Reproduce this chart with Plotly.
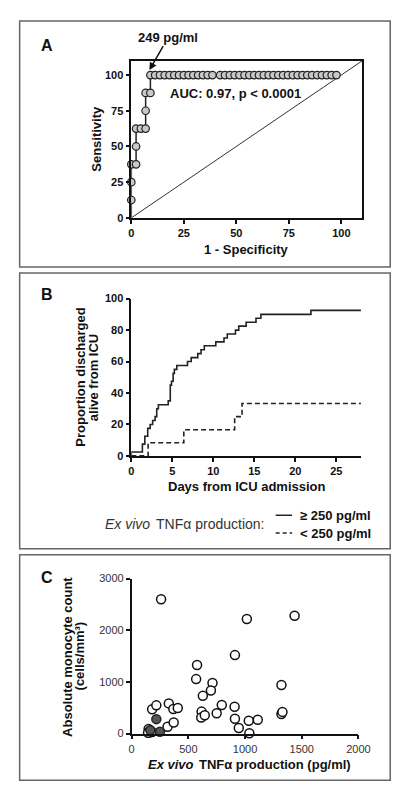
import plotly.graph_objects as go

# ---------------- DATA ----------------
# Panel A: ROC curve
roc_fpr = [0, 0, 0, 0, 2.27, 2.27, 2.27, 4.55, 6.82, 6.82, 6.82, 9.09, 9.09,
           11.36, 13.64, 15.91, 18.18, 20.45, 22.73, 25.0, 27.27, 29.55, 31.82,
           34.09, 36.36, 38.64,
           42.3, 44.6, 46.9, 49.2, 51.5, 53.9, 56.2, 58.5, 60.8, 63.1, 65.4,
           67.7, 70.0, 72.3, 74.6, 76.9, 79.2, 81.5, 83.8, 86.1, 88.5, 90.8,
           93.1, 95.4, 97.7]
roc_sens = [0, 12.5, 25, 37.5, 37.5, 50, 62.5, 62.5, 62.5, 75, 87.5, 87.5, 100,
            100, 100, 100, 100, 100, 100, 100, 100, 100, 100,
            100, 100, 100,
            100, 100, 100, 100, 100, 100, 100, 100, 100, 100, 100,
            100, 100, 100, 100, 100, 100, 100, 100, 100, 100, 100,
            100, 100, 100]
chance_x = [0, 110]
chance_y = [0, 110]
roc_ticks = [0, 25, 50, 75, 100]

# Panel B: Kaplan-Meier discharge curves
km_hi_days = [0, 0, 1.35, 1.65, 2.0, 2.3, 2.6, 2.9, 3.1, 3.3, 4.5, 4.75, 4.9,
              5.1, 5.25, 5.55, 6.85, 7.3, 8.1, 8.5, 8.9, 10.3, 11.3, 11.7,
              12.7, 13.1, 14.0, 15.2, 15.8, 21.9, 28]
km_hi_pct = [0, 2.5, 7.5, 12.5, 17.5, 20, 22.5, 25, 30, 32.5, 35, 45, 47.5,
             52.5, 55, 57.5, 60, 62.5, 65, 67.5, 70, 72.5, 75, 77.5,
             80, 82.5, 85, 87.5, 90, 92.5, 92.5]
km_lo_days = [0, 2.05, 6.4, 12.6, 13.5, 28]
km_lo_pct = [0, 8.33, 16.67, 25.0, 33.33, 33.33]
km_xticks = [0, 5, 10, 15, 20, 25]
km_yticks = [0, 20, 40, 60, 80, 100]

# Panel C: monocyte count vs TNF production
open_tnf = [260, 1016, 1437, 911, 577, 569, 713, 699, 628, 1321, 1321, 1330,
            328, 368, 407, 181, 218, 317, 371, 617, 614, 645, 750, 795, 908,
            911, 945, 1033, 1112, 1038, 150, 160, 155, 180, 145]
open_mono = [2600, 2218, 2282, 1519, 1328, 1055, 979, 833, 731, 941, 380, 420,
             585, 477, 496, 470, 547, 133, 216, 426, 311, 356, 394, 553, 521,
             286, 108, 248, 267, 6, 90, 55, 20, 30, 15]
filled_tnf = [218, 250, 165]
filled_mono = [280, 35, 65]
sc_xticks = [0, 500, 1000, 1500, 2000]
sc_yticks = [0, 1000, 2000, 3000]

# ---------------- FIGURE ----------------
W, H = 400, 791
FONT = "Liberation Sans, Arial, sans-serif"


def X(px):
    return px / W


def Y(py):
    return 1 - py / H


fig = go.Figure()

# Panel A
fig.add_trace(go.Scatter(x=chance_x, y=chance_y, mode="lines",
                         line=dict(color="#333", width=1),
                         xaxis="x", yaxis="y", showlegend=False, hoverinfo="skip"))
fig.add_trace(go.Scatter(x=roc_fpr, y=roc_sens, mode="lines",
                         line=dict(color="#222", width=1.5),
                         xaxis="x", yaxis="y", showlegend=False, cliponaxis=False))
fig.add_trace(go.Scatter(x=roc_fpr[1:], y=roc_sens[1:], mode="markers",
                         marker=dict(size=7.5, color="#c8c8c8",
                                     line=dict(color="#222", width=1.2)),
                         xaxis="x", yaxis="y", showlegend=False, cliponaxis=False))

# Panel B
fig.add_trace(go.Scatter(x=km_hi_days, y=km_hi_pct, mode="lines", line_shape="hv",
                         line=dict(color="#222", width=1.6),
                         xaxis="x2", yaxis="y2", name="≥ 250 pg/ml",
                         showlegend=False, cliponaxis=False))
fig.add_trace(go.Scatter(x=km_lo_days, y=km_lo_pct, mode="lines", line_shape="hv",
                         line=dict(color="#222", width=1.6, dash="5px,3px"),
                         xaxis="x2", yaxis="y2", name="< 250 pg/ml",
                         showlegend=False, cliponaxis=False))

# Panel C
fig.add_trace(go.Scatter(x=open_tnf, y=open_mono, mode="markers",
                         marker=dict(size=9, color="white",
                                     line=dict(color="#111", width=1.5)),
                         xaxis="x3", yaxis="y3", showlegend=False, cliponaxis=False))
fig.add_trace(go.Scatter(x=filled_tnf, y=filled_mono, mode="markers",
                         marker=dict(size=9, color="#555",
                                     line=dict(color="#222", width=1.5)),
                         xaxis="x3", yaxis="y3", showlegend=False, cliponaxis=False))

axis_common = dict(showline=True, linecolor="#111", linewidth=1.5, ticks="outside",
                   ticklen=4, tickwidth=1.5, tickcolor="#111", showgrid=False,
                   zeroline=False, fixedrange=True)
bold_tick = dict(family=FONT, size=11, color="#111", weight="bold")
reg_tick = dict(family=FONT, size=11, color="#333")

fig.update_layout(
    width=W, height=H, autosize=False,
    margin=dict(l=0, r=0, t=0, b=0),
    paper_bgcolor="white", plot_bgcolor="white",
    font=dict(family=FONT, color="#111"),
    xaxis=dict(domain=[X(125), X(365)], range=[0, 110], tickvals=roc_ticks,
               anchor="y", mirror=True, tickfont=bold_tick, **axis_common),
    yaxis=dict(domain=[Y(207), Y(47.5)], range=[0, 110], tickvals=roc_ticks,
               anchor="x", mirror=True, tickfont=bold_tick, **axis_common),
    xaxis2=dict(domain=[X(125), X(363.6)], range=[0, 28], tickvals=km_xticks,
                anchor="y2", tickfont=bold_tick, **axis_common),
    yaxis2=dict(domain=[Y(448.7), Y(289)], range=[0, 100], tickvals=km_yticks,
                anchor="x2", tickfont=bold_tick, **axis_common),
    xaxis3=dict(domain=[X(125.3), X(361)], range=[0, 2000], tickvals=sc_xticks,
                anchor="y3", tickfont=reg_tick, **axis_common),
    yaxis3=dict(domain=[Y(730.7), Y(573.3)], range=[0, 3000], tickvals=sc_yticks,
                anchor="x3", tickfont=reg_tick, **axis_common),
)

# panel borders
for top, bot in [(7, 257), (263, 543), (549, 778)]:
    fig.add_shape(type="rect", xref="paper", yref="paper",
                  x0=X(9), x1=X(394), y0=Y(bot), y1=Y(top),
                  line=dict(color="#666", width=1.5), fillcolor="rgba(0,0,0,0)")

# legend samples in panel B
fig.add_shape(type="line", xref="paper", yref="paper", x0=X(275), x1=X(292),
              y0=Y(509), y1=Y(509), line=dict(color="#222", width=1.5))
fig.add_shape(type="line", xref="paper", yref="paper", x0=X(275), x1=X(292),
              y0=Y(527), y1=Y(527), line=dict(color="#222", width=1.5, dash="4px,3px"))


def txt(s, px, py, size=13, bold=True, angle=0, xanchor="center", color="#111",
        italic=False):
    fig.add_annotation(text=s, x=X(px), y=Y(py), xref="paper", yref="paper",
                       showarrow=False, textangle=angle, xanchor=xanchor,
                       yanchor="middle",
                       font=dict(family=FONT, size=size, color=color,
                                 weight="bold" if bold else "normal",
                                 style="italic" if italic else "normal"))


# Panel A texts
txt("A", 37, 32, size=16)
# label with arrow pointing at the 249 pg/ml cut-off point
fig.add_annotation(x=8.6, y=103.5, xref="x", yref="y", text="249 pg/ml",
                   showarrow=True, axref="pixel", ayref="pixel",
                   ax=19, ay=-33, arrowhead=2, arrowsize=1, arrowwidth=1.5,
                   arrowcolor="#111", standoff=0,
                   font=dict(family=FONT, size=13, color="#111", weight="bold"))
txt("AUC: 0.97, p < 0.0001", 233, 81)
txt("Sensitivity", 88, 127, angle=-90)
txt("1 - Specificity", 245, 239)

# Panel B texts
txt("B", 37, 285, size=16)
txt("Proportion discharged", 72, 369, angle=-90)
txt("alive from ICU", 86, 369, angle=-90)
txt("Days from ICU admission", 245, 480)
txt("Ex vivo", 96, 518, size=14, bold=False, color="#333", xanchor="left",
    italic=True)
txt("TNFα production:", 149, 518, size=14, bold=False, color="#333",
    xanchor="left")
txt("≥ 250 pg/ml", 298, 509, xanchor="left")
txt("< 250 pg/ml", 298, 527, xanchor="left")

# Panel C texts
txt("C", 37, 572, size=16)
txt("Absolute monocyte count", 58, 653, angle=-90)
txt("(cells/mm³)", 71, 652, angle=-90)
txt("Ex vivo", 140, 762, xanchor="left", italic=True)
txt("TNFα production (pg/ml)", 193.5, 762, xanchor="left")

fig.write_html("out.html")
